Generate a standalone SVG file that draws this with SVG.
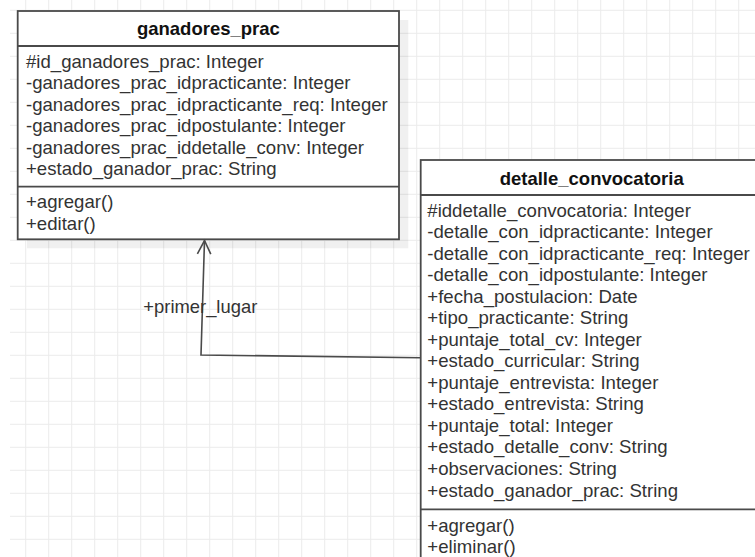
<svg xmlns="http://www.w3.org/2000/svg" width="755" height="557" viewBox="0 0 755 557">
  <style>
    .box { fill: #ffffff; stroke: #4a4a4a; stroke-width: 1.8; }
    .sep { stroke: #4a4a4a; stroke-width: 1.8; }
    .shadow { fill: #000000; fill-opacity: 0.06; }
    .title { font-family: "Liberation Sans", Arial, sans-serif; font-size: 18.5px; font-weight: bold; fill: #111111; text-anchor: middle; }
    .member { font-family: "Liberation Sans", Arial, sans-serif; font-size: 18.6px; fill: #333333; }
    .edge { fill: none; stroke: #4a4a4a; stroke-width: 1.6; }
    .edge-label { font-family: "Liberation Sans", Arial, sans-serif; font-size: 18.4px; fill: #333333; }
  </style>
  <defs>
    <pattern id="grid" patternUnits="userSpaceOnUse" x="25.2" y="9.8" width="23" height="23">
      <path d="M 0 0.5 H 23 M 0.5 0 V 23" fill="none" stroke="#ebebeb" stroke-width="1"/>
    </pattern>
    <marker id="open-arrow" markerUnits="userSpaceOnUse" orient="auto" refX="0" refY="0" markerWidth="30" markerHeight="30" viewBox="-15 -15 30 30" overflow="visible">
      <path d="M -13.5 -6.7 L 0 0 L -13.5 6.7" fill="none" stroke="#4a4a4a" stroke-width="1.6"/>
    </marker>
  </defs>

  <!-- canvas -->
  <rect x="0" y="0" width="755" height="557" fill="#ffffff"/>
  <rect x="10" y="0" width="745" height="557" fill="url(#grid)"/>

  <!-- class: ganadores_prac -->
  <g id="ganadores_prac">
    <rect class="shadow" x="27" y="20" width="381.3" height="228.3"/>
    <rect class="box" x="17.7" y="11" width="381.3" height="228.3"/>
    <line class="sep" x1="17.7" y1="46" x2="399" y2="46"/>
    <line class="sep" x1="17.7" y1="186.7" x2="399" y2="186.7"/>
    <text class="title" x="208.4" y="35">ganadores_prac</text>
    <text class="member" x="26" y="67.5">#id_ganadores_prac: Integer</text>
    <text class="member" x="26" y="89">-ganadores_prac_idpracticante: Integer</text>
    <text class="member" x="26" y="110.5">-ganadores_prac_idpracticante_req: Integer</text>
    <text class="member" x="26" y="132">-ganadores_prac_idpostulante: Integer</text>
    <text class="member" x="26" y="153.5">-ganadores_prac_iddetalle_conv: Integer</text>
    <text class="member" x="26" y="175">+estado_ganador_prac: String</text>
    <text class="member" x="26" y="208.2">+agregar()</text>
    <text class="member" x="26" y="229.8">+editar()</text>
  </g>

  <!-- class: detalle_convocatoria -->
  <g id="detalle_convocatoria">
    <rect class="box" x="420.7" y="160" width="342" height="420"/>
    <line class="sep" x1="420.7" y1="195" x2="762.7" y2="195"/>
    <line class="sep" x1="420.7" y1="509.3" x2="762.7" y2="509.3"/>
    <text class="title" x="591.7" y="184.5">detalle_convocatoria</text>
    <text class="member" x="427.3" y="216.5">#iddetalle_convocatoria: Integer</text>
    <text class="member" x="427.3" y="238">-detalle_con_idpracticante: Integer</text>
    <text class="member" x="427.3" y="259.6">-detalle_con_idpracticante_req: Integer</text>
    <text class="member" x="427.3" y="281.1">-detalle_con_idpostulante: Integer</text>
    <text class="member" x="427.3" y="302.7">+fecha_postulacion: Date</text>
    <text class="member" x="427.3" y="324.2">+tipo_practicante: String</text>
    <text class="member" x="427.3" y="345.7">+puntaje_total_cv: Integer</text>
    <text class="member" x="427.3" y="367.3">+estado_curricular: String</text>
    <text class="member" x="427.3" y="388.8">+puntaje_entrevista: Integer</text>
    <text class="member" x="427.3" y="410.4">+estado_entrevista: String</text>
    <text class="member" x="427.3" y="431.9">+puntaje_total: Integer</text>
    <text class="member" x="427.3" y="453.4">+estado_detalle_conv: String</text>
    <text class="member" x="427.3" y="475">+observaciones: String</text>
    <text class="member" x="427.3" y="496.5">+estado_ganador_prac: String</text>
    <text class="member" x="427.3" y="531.5">+agregar()</text>
    <text class="member" x="427.3" y="553">+eliminar()</text>
  </g>

  <!-- connectors -->
  <g id="connectors">
    <g id="edge-primer-lugar">
      <path class="edge" d="M 420.7 357.7 L 201 355 L 204.5 240.5" marker-end="url(#open-arrow)"/>
      <text class="edge-label" x="143.3" y="312.5">+primer_lugar</text>
    </g>
  </g>
</svg>
